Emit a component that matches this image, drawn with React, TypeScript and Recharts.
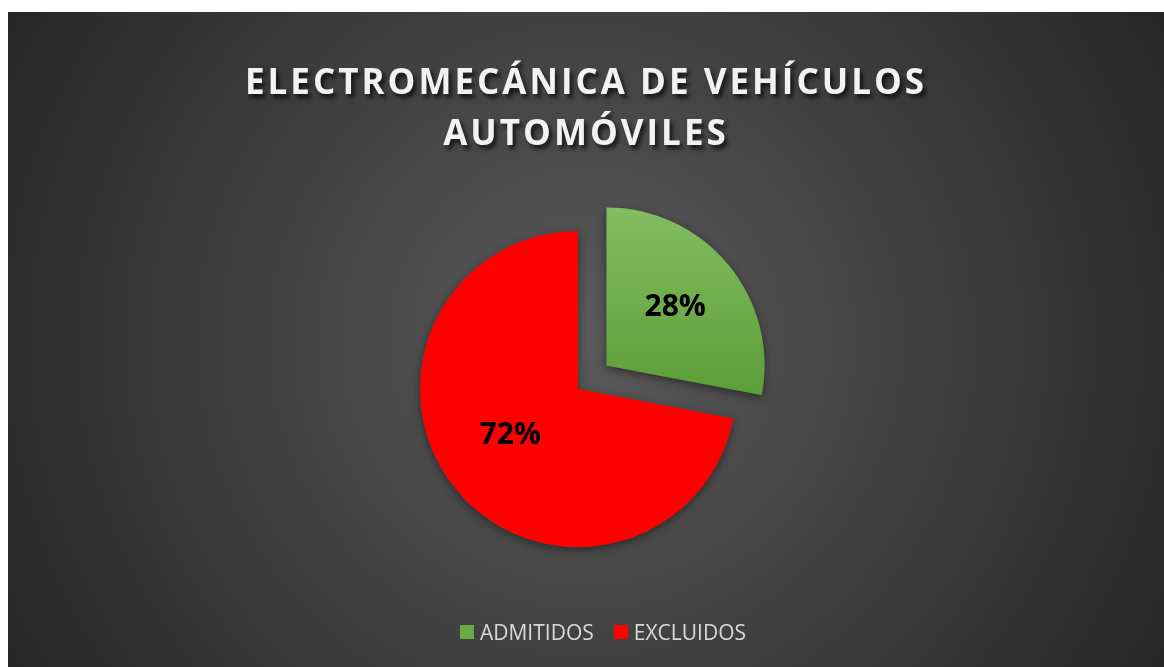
import { PieChart, Pie, Cell, Legend } from 'recharts';

const categories = ['ADMITIDOS', 'EXCLUIDOS'];
const values = [28, 72];
const sliceFills = ['url(#greenFill)', '#ff0000'];
const legendFills = ['#6aaa45', '#ff0000'];
const titleLines = ['ELECTROMECÁNICA DE VEHÍCULOS', 'AUTOMÓVILES'];

const data = categories.map((name, i) => ({ name, value: values[i] }));

const W = 1156;
const H = 655;
const CX = 565;
const CY = 372;
const R = 158;
const EXPLODE = 37;
const RAD = Math.PI / 180;

// exploded slice (first) is pushed out along its mid angle
const total = values.reduce((a, b) => a + b, 0);
const firstMid = 90 - (values[0] / total) * 180;
const CX2 = CX + EXPLODE * Math.cos(firstMid * RAD);
const CY2 = CY - EXPLODE * Math.sin(firstMid * RAD);

const renderLabel = (show: number) => (p: any) => {
  if (p.index !== show) return null;
  const r = p.outerRadius * 0.54;
  const x = p.cx + r * Math.cos(-p.midAngle * RAD) + (show === 0 ? 3 : -2);
  const y = p.cy + r * Math.sin(-p.midAngle * RAD) - (show === 0 ? 7 : 11);
  return (
    <text
      x={x}
      y={y}
      textAnchor="middle"
      dominantBaseline="central"
      fill="#000"
      fontFamily="'Open Sans', sans-serif"
      fontWeight={700}
      fontSize={30}
    >
      {`${Math.round(p.percent * 100)}%`}
    </text>
  );
};

const LegendBox = () => (
  <div style={{ display: 'flex', justifyContent: 'center', gap: 20, marginLeft: 34 }}>
    {categories.map((c, i) => (
      <div key={c} style={{ display: 'flex', alignItems: 'center', gap: 6 }}>
        <span style={{ width: 14, height: 14, background: legendFills[i], display: 'inline-block' }} />
        <span style={{ color: '#d9d9d9', fontSize: 21, fontFamily: "'Open Sans', sans-serif" }}>{c}</span>
      </div>
    ))}
  </div>
);

export default function App() {
  return (
    <div
      style={{
        position: 'fixed',
        left: 8,
        top: 12,
        width: W,
        height: H,
        background: 'radial-gradient(circle farthest-corner at 50% 50%, #5a5a5a 0%, #262626 100%)',
      }}
    >
      <div
        style={{
          position: 'absolute',
          top: 43,
          left: 0,
          width: W,
          textAlign: 'center',
          color: '#f2f2f2',
          fontFamily: "'Open Sans', sans-serif",
          fontWeight: 700,
          fontSize: 35,
          letterSpacing: 3,
          lineHeight: '51px',
          textShadow: '3px 4px 4px rgba(0,0,0,0.7)',
        }}
      >
        {titleLines.map((t) => (
          <div key={t}>{t}</div>
        ))}
      </div>
      <PieChart width={W} height={H} style={{ position: 'absolute', left: 0, top: 0 }}>
        <defs>
          <linearGradient id="greenFill" x1="0" y1="0" x2="0" y2="1">
            <stop offset="0%" stopColor="#83bd61" />
            <stop offset="100%" stopColor="#5c9e36" />
          </linearGradient>
          <filter id="pieShadow" x="-20%" y="-20%" width="140%" height="140%">
            <feDropShadow dx="0" dy="3" stdDeviation="5" floodColor="#000" floodOpacity="0.45" />
          </filter>
        </defs>
        <Pie
          data={data}
          dataKey="value"
          nameKey="name"
          cx={CX}
          cy={CY}
          outerRadius={R}
          startAngle={90}
          endAngle={-270}
          stroke="none"
          labelLine={false}
          label={renderLabel(1)}
          isAnimationActive={false}
        >
          {data.map((d, i) => (
            <Cell key={d.name} fill={i === 1 ? sliceFills[i] : 'none'} filter={i === 1 ? 'url(#pieShadow)' : undefined} />
          ))}
        </Pie>
        <Pie
          data={data}
          dataKey="value"
          nameKey="name"
          cx={CX2}
          cy={CY2}
          outerRadius={R}
          startAngle={90}
          endAngle={-270}
          stroke="none"
          labelLine={false}
          label={renderLabel(0)}
          isAnimationActive={false}
        >
          {data.map((d, i) => (
            <Cell key={d.name} fill={i === 0 ? sliceFills[i] : 'none'} filter={i === 0 ? 'url(#pieShadow)' : undefined} />
          ))}
        </Pie>
        <Legend content={<LegendBox />} wrapperStyle={{ top: 606, left: 0, width: W }} />
      </PieChart>
    </div>
  );
}
